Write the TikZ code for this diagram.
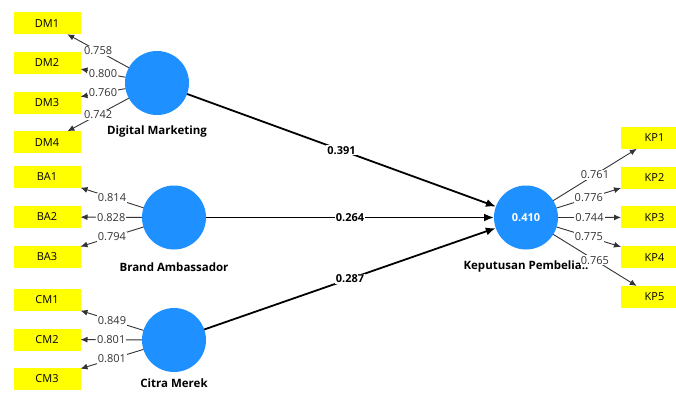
\documentclass[tikz,border=0pt]{standalone}
\usepackage{fontspec}
\setmainfont{Open Sans}
\usetikzlibrary{arrows.meta,positioning}
\definecolor{lvblue}{HTML}{1E90FF}
\definecolor{mvyellow}{HTML}{FFFF00}
\tikzset{
    every node/.style={font=\fontsize{11}{13}\selectfont},
    latent/.style={circle, fill=lvblue, minimum size=64pt, inner sep=0, outer sep=0},
    indicator/.style={fill=mvyellow, minimum width=67pt, minimum height=22pt, inner sep=0, outer sep=0},
    lvname/.style={font=\fontsize{11.5}{13}\selectfont\bfseries},
    loading/.style={-{Latex[length=7pt,width=6pt]}, line width=.9pt, black!80},
    path/.style={-{Latex[length=10pt,width=8pt]}, line width=1.8pt},
    loadval/.style={fill=white, inner sep=1pt},
    pathval/.style={fill=white, inner sep=1pt, font=\fontsize{11}{13}\selectfont\bfseries},
}

\begin{document}
\begin{tikzpicture}[x=1pt, y=-1pt]
    \useasboundingbox (0,0) rectangle (676,392);
    \clip (0,0) rectangle (676,392);

    % latent variables
    \node[latent] (dm) at (157,83) {};
    \node[latent] (ba) at (174,217.5) {};
    \node[latent] (cm) at (174,340) {};
    \node[latent, text=white, font=\fontsize{11}{13}\selectfont\bfseries] (kp) at (526,217.5) {0.410};

    \node[lvname] (dmname) at (157,132) {Digital Marketing};
    \node[lvname] (baname) at (174,267) {Brand Ambassador};
    \node[lvname] (cmname) at (174,383.5) {Citra Merek};
    \node[lvname] (kpname) at (526,267) {Keputusan Pembelia..};

    % outer model
    \foreach \v [count=\i] in {0.758,0.800,0.760,0.742}{
        \node[indicator] (dm\i) at (47,{-16.5+39.7*\i}) {DM\i};
        \draw[loading] (dm) -- node[loadval] {\v} (dm\i);
    }
    \foreach \v [count=\i] in {0.814,0.828,0.794}{
        \node[indicator] (ba\i) at (47,{137+40*\i}) {BA\i};
        \draw[loading] (ba) -- node[loadval] {\v} (ba\i);
    }
    \foreach \v [count=\i] in {0.849,0.801,0.801}{
        \node[indicator] (cm\i) at (47,{260.5+39.5*\i}) {CM\i};
        \draw[loading] (cm) -- node[loadval] {\v} (cm\i);
    }
    \foreach \v [count=\i] in {0.761,0.776,0.744,0.775,0.765}{
        \node[indicator] (kp\i) at (654.5,{98+39.8*\i}) {KP\i};
        \draw[loading] (kp) -- node[loadval] {\v} (kp\i);
    }

    % inner model
    \draw[path] (dm) -- node[pathval] {0.391} (kp);
    \draw[path] (ba) -- node[pathval] {0.264} (kp);
    \draw[path] (cm) -- node[pathval] {0.287} (kp);
\end{tikzpicture}
\end{document}
